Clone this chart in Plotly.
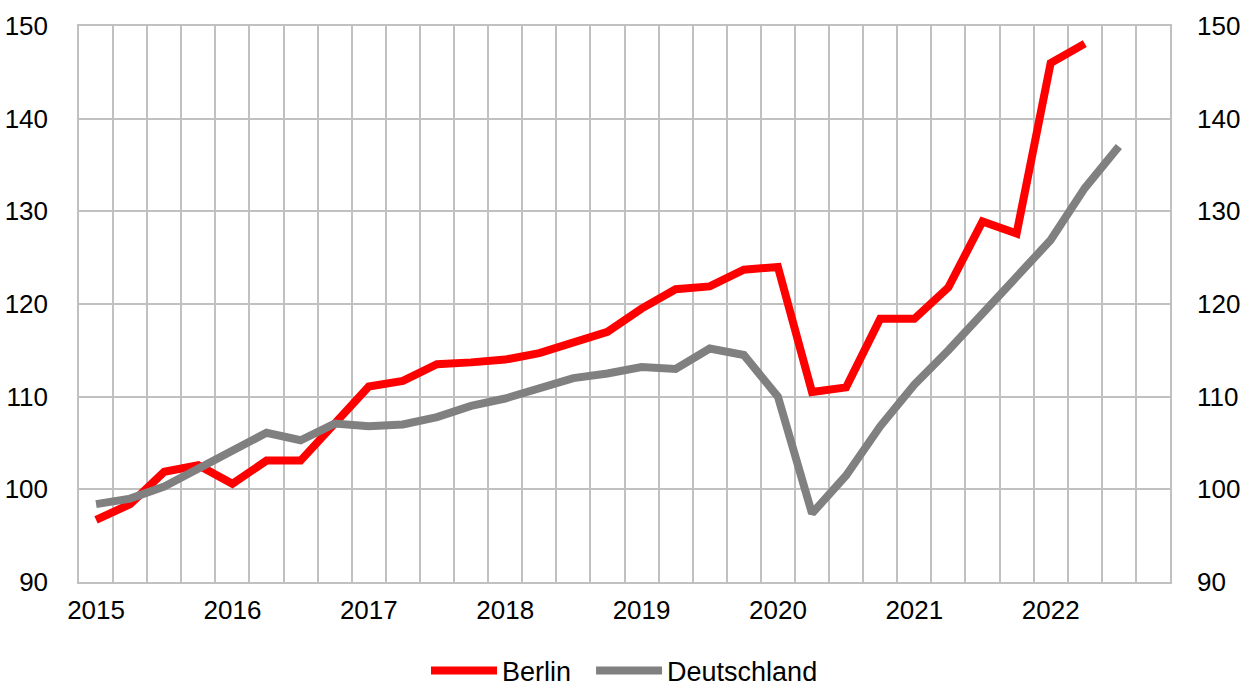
import plotly.graph_objects as go

# quarterly index values, 2015 Q1 .. 2022 Q4
quarters = [f"{y} Q{q}" for y in range(2015, 2023) for q in range(1, 5)]
year_labels = ["2015", "2016", "2017", "2018", "2019", "2020", "2021", "2022"]

berlin = [96.7, 98.4, 101.9, 102.6, 100.6, 103.1, 103.1, 107.0,
          111.1, 111.7, 113.5, 113.7, 114.0, 114.7, 115.8, 117.0,
          119.5, 121.6, 121.9, 123.7, 124.0, 110.5, 111.0, 118.4,
          118.4, 121.8, 128.9, 127.6, 146.0, 148.1]
deutschland = [98.4, 99.0, 100.3, 102.2, 104.2, 106.1, 105.3, 107.1,
               106.8, 107.0, 107.8, 109.0, 109.8, 110.8, 112.0, 112.5,
               113.2, 113.0, 115.2, 114.5, 110.0, 97.4, 101.5, 106.8,
               111.3, 115.0, 118.9, 123.0, 126.9, 132.5, 137.0]

GRID = "#c0c0c0"
FONT = "Liberation Sans, Arial, sans-serif"

ticktext = [q.split(" ")[0] if q.endswith("Q1") else "" for q in quarters]

fig = go.Figure()
# non-breaking spaces widen the gap between the two legend entries
fig.add_trace(go.Scatter(x=quarters[:len(berlin)], y=berlin, mode="lines", name="Berlin\u00a0\u00a0",
                         line=dict(color="#ff0000", width=8)))
fig.add_trace(go.Scatter(x=quarters[:len(deutschland)], y=deutschland, mode="lines", name="Deutschland",
                         line=dict(color="#808080", width=8)))
# invisible trace so the right-hand axis gets drawn
fig.add_trace(go.Scatter(x=quarters[:1], y=[None], yaxis="y2", showlegend=False,
                         hoverinfo="skip", mode="lines"))

fig.update_layout(
    width=1250, height=688,
    margin=dict(l=79, r=80, t=26, b=106, autoexpand=False),
    plot_bgcolor="white", paper_bgcolor="white",
    font=dict(family=FONT, size=26, color="black"),
    xaxis=dict(
        type="category", categoryorder="array", categoryarray=quarters,
        range=[-0.5, len(quarters) - 0.5],
        tickmode="array", tickvals=quarters, ticktext=ticktext,
        tickson="boundaries", ticks="", tickangle=0, automargin=False,
        showgrid=True, gridcolor=GRID, gridwidth=1.5,
        showline=True, linecolor=GRID, linewidth=1.5, mirror=True,
        ticklabelstandoff=4,
    ),
    yaxis=dict(
        range=[90, 150], tickvals=[90, 100, 110, 120, 130, 140, 150],
        showgrid=True, gridcolor=GRID, gridwidth=1.5, automargin=False,
        showline=True, linecolor=GRID, linewidth=1.5, mirror=True,
        ticks="", ticklabelstandoff=24, zeroline=False,
    ),
    yaxis2=dict(
        overlaying="y", side="right", matches="y", automargin=False,
        range=[90, 150], tickvals=[90, 100, 110, 120, 130, 140, 150],
        showgrid=False, ticks="", ticklabelstandoff=26, zeroline=False,
    ),
    legend=dict(orientation="h", x=0.5, xanchor="center", y=-0.16, yanchor="middle",
                itemwidth=66, font=dict(size=27), traceorder="normal"),
    showlegend=True,
)

fig.write_html("out.html", config={"displayModeBar": False},
               post_script="document.body.style.margin='0';")
